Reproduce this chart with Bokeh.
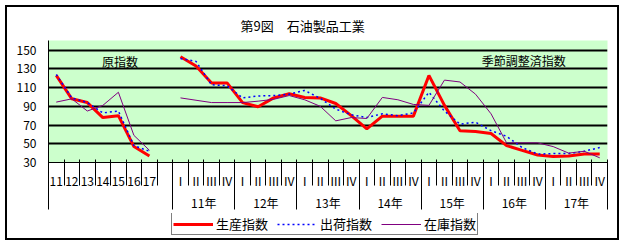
import numpy as np
from bokeh.plotting import figure
from bokeh.layouts import column
from bokeh.models import (Range1d, FixedTicker, LinearAxis, Legend, LegendItem,
                          Label, Grid)
from bokeh.embed import file_html
from bokeh.resources import INLINE

# ---- data ----
years = ["11", "12", "13", "14", "15", "16", "17"]
quarters = ["Ⅰ", "Ⅱ", "Ⅲ", "Ⅳ"]
quarter_years = ["11年", "12年", "13年", "14年", "15年", "16年", "17年"]
y_ticks = [30, 50, 70, 90, 110, 130, 150]
grid_ticks = [50, 70, 90, 110, 130, 150]
series_names = ["生産指数", "出荷指数", "在庫指数"]

annual_production = [123, 98, 94, 78, 80, 47, 37]
annual_shipment = [124, 99, 94, 83, 85, 48, 42]
annual_inventory = [94.5, 98, 85, 91, 105, 59, 43]

sa_production = [143, 133, 115, 115, 94, 89.5, 99, 103.5,
                 99.5, 99, 93, 80, 66, 79.5, 79.5, 79.5,
                 123, 91, 64, 63, 61, 48, 43, 38,
                 36.5, 37, 39, 39]
sa_shipment = [141, 138, 113, 112, 99, 101, 101.5, 103,
               107, 98.5, 87, 81, 78, 82, 80, 83,
               105, 85, 71, 73, 64, 58, 46, 39,
               39.5, 39.5, 42, 46]
sa_inventory = [99, 96.5, 94, 94, 94, 95.5, 97.5, 101.5,
                97, 90, 74.5, 78, 77, 99.5, 97, 92,
                91, 118, 116, 103, 82, 51, 51, 51,
                47, 40, 42, 35]

FONT = "Noto Sans CJK JP"
STYLES = [dict(line_color="#FF0000", line_width=3),
          dict(line_color="#0000FF", line_width=1.5, line_dash="2 3"),
          dict(line_color="#800080", line_width=1)]

n_a = len(years)
n_q = len(sa_production)
gap = 1
n_total = n_a + gap + n_q

x = np.array([i + 0.5 for i in range(n_total)], dtype=float)
def series(a, q):
    return np.array(list(a) + [np.nan] * gap + list(q), dtype=float)

values = [series(annual_production, sa_production),
          series(annual_shipment, sa_shipment),
          series(annual_inventory, sa_inventory)]

fig = figure(width=624, height=213, output_backend="svg", toolbar_location=None,
             x_range=Range1d(0, n_total), y_range=Range1d(30, 160.3),
             x_axis_type=None, y_axis_type=None,
             min_border_left=48, min_border_right=17, min_border_top=40,
             min_border_bottom=51)
fig.background_fill_color = "#CCFFCC"
fig.border_fill_color = None
fig.border_fill_alpha = 0
fig.outline_line_color = None

fig.title.text = "第9図　石油製品工業"
fig.title.align = "left"
fig.title.offset = 192
fig.title.standoff = 11
fig.title.text_font = FONT
fig.title.text_font_size = "13px"
fig.title.text_font_style = "normal"
fig.title.text_color = "black"

# y axis
yax = LinearAxis(ticker=FixedTicker(ticks=y_ticks, minor_ticks=[]),
                 major_tick_out=0, major_tick_in=0, minor_tick_out=0, minor_tick_in=0,
                 major_label_standoff=12, axis_line_color="black", axis_line_width=1,
                 major_label_text_font=FONT, major_label_text_font_size="12px",
                 major_label_text_color="black")
fig.add_layout(yax, "left")

fig.add_layout(Grid(dimension=1, ticker=FixedTicker(ticks=grid_ticks),
                    grid_line_color="black", grid_line_width=2))

# x axis level 1: category labels
cat_centers = [i + 0.5 for i in range(n_a)] + [n_a + gap + k + 0.5 for k in range(n_q)]
cat_labels = years + quarters * (n_q // 4)
xax1 = LinearAxis(ticker=FixedTicker(ticks=cat_centers, minor_ticks=list(range(n_total + 1))),
                  major_label_overrides={float(c): l for c, l in zip(cat_centers, cat_labels)},
                  major_tick_in=0, major_tick_out=0, minor_tick_in=3, minor_tick_out=23,
                  minor_tick_line_color="black", axis_line_color="black",
                  major_label_standoff=-14, major_label_text_font=FONT,
                  major_label_text_font_size="12px", major_label_text_color="black")
fig.add_layout(xax1, "below")

# x axis level 2: year labels
year_centers = [n_a + gap + 4 * k + 2 for k in range(len(quarter_years))]
year_bounds = [0] + [n_a + gap + 4 * k for k in range(len(quarter_years) + 1)]
xax2 = LinearAxis(ticker=FixedTicker(ticks=year_centers, minor_ticks=year_bounds),
                  major_label_overrides={float(c): l for c, l in zip(year_centers, quarter_years)},
                  major_tick_in=0, major_tick_out=0, minor_tick_in=29, minor_tick_out=18,
                  minor_tick_line_color="black", axis_line_color=None,
                  major_label_standoff=-16, major_label_text_font=FONT,
                  major_label_text_font_size="12px", major_label_text_color="black")
fig.add_layout(xax2, "below")

for vals, st in zip(values, STYLES):
    fig.line(x, vals, **st)

fig.add_layout(Label(x=4.6, y=138, text="原指数", text_align="center", text_baseline="middle",
                     text_font=FONT, text_font_size="12px", text_color="black"))
fig.add_layout(Label(x=30.6, y=138.5, text="季節調整済指数", text_align="center",
                     text_baseline="middle", text_font=FONT, text_font_size="12px",
                     text_color="black"))

# legend strip: its frame holds the legend; the series drawn here fall outside its range
leg = figure(width=624, height=32, output_backend="svg", toolbar_location=None,
             x_range=Range1d(0, 1), y_range=Range1d(0, 1),
             x_axis_type=None, y_axis_type=None,
             min_border_left=0, min_border_right=0, min_border_top=0, min_border_bottom=0)
leg.title.visible = False
leg.background_fill_color = None
leg.border_fill_color = None
leg.border_fill_alpha = 0
leg.outline_line_color = None
proxies = [leg.line(x, vals, **st) for vals, st in zip(values, STYLES)]

legend = Legend(items=[LegendItem(label=n, renderers=[r]) for n, r in zip(series_names, proxies)],
                orientation="horizontal", location=(123, 10),
                border_line_color="black", border_line_width=1,
                background_fill_color="white", background_fill_alpha=1,
                glyph_width=40, glyph_height=18, label_height=18,
                label_standoff=3, spacing=9, padding=1, margin=0,
                label_text_font=FONT, label_text_font_size="13px",
                label_text_color="black")
leg.add_layout(legend)

p = column(fig, leg, spacing=0,
           styles={"background-color": "white",
                   "box-shadow": "inset 0 0 0 5px white, inset 0 0 0 7px black"})

open("out.html", "w").write(file_html(p, INLINE))
